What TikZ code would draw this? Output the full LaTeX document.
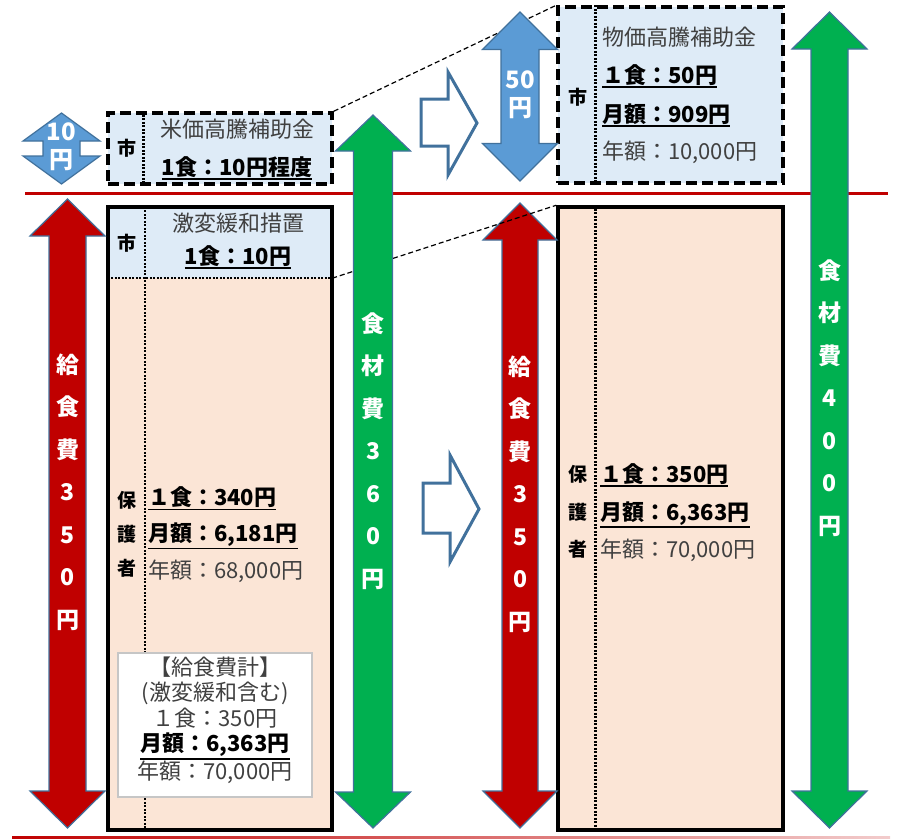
\documentclass[tikz,border=0pt]{standalone}
\usepackage{fontspec}
\setmainfont{Noto Sans CJK JP}
\usetikzlibrary{calc}
\definecolor{cityblue}{RGB}{222,235,247}
\definecolor{parentpeach}{RGB}{251,229,214}
\definecolor{mealred}{RGB}{192,0,0}
\definecolor{foodgreen}{RGB}{0,176,80}
\definecolor{aidblue}{RGB}{91,155,213}
\definecolor{edgeblue}{RGB}{65,113,156}
\definecolor{textgray}{RGB}{64,64,64}

% underlined amount
\newcommand{\undl}[1]{\vtop{\hbox{#1}\kern1pt\hrule height 1.8pt}}
% vertical block arrow: x, top tip, bottom tip, half shaft, half head, head length, style
\newcommand{\blockarrow}[7]{%
  \filldraw[#7] (#1,#2) -- ({#1+#5},{#2+#6}) -- ({#1+#4},{#2+#6}) -- ({#1+#4},{#3-#6})
    -- ({#1+#5},{#3-#6}) -- (#1,#3) -- ({#1-#5},{#3-#6}) -- ({#1-#4},{#3-#6})
    -- ({#1-#4},{#2+#6}) -- ({#1-#5},{#2+#6}) -- cycle;}

\begin{document}
\begin{tikzpicture}[x=1pt,y=-1pt,
    every node/.style={inner sep=0pt},
    plain/.style={font=\fontsize{22}{26}\selectfont, text=textgray},
    strong/.style={font=\fontsize{22}{26}\selectfont\bfseries},
    tag/.style={font=\fontsize{19}{34}\selectfont\bfseries, align=center},
    arrowtext/.style={font=\fontsize{23}{42.5}\selectfont\bfseries, text=white, align=center},
    amounttext/.style={font=\fontsize{24}{28}\selectfont\bfseries, text=white, align=center},
    blockedge/.style={draw=edgeblue, line width=1.2pt},
    hollow/.style={draw=edgeblue, line width=3pt, fill=white, line join=miter},
    citybox/.style={fill=cityblue, draw, line width=3.5pt, dash pattern=on 11pt off 5pt},
    divider/.style={line width=2.5pt, dash pattern=on 2pt off 1.5pt},
    connector/.style={line width=1.2pt, dash pattern=on 5pt off 3pt}]
  \useasboundingbox (0,0) rectangle (897,839);

  % level lines
  \draw[mealred, line width=3pt] (25,193) -- (888,193);
  \shade[left color=mealred, right color=mealred!20] (12,836) rectangle (890,838);

  % top left: rice subsidy
  \node[citybox, minimum width=224pt, minimum height=71pt] (ricebox) at (220,148.5) {};
  \draw[divider] ([xshift=37pt]ricebox.north west) -- ([xshift=37pt]ricebox.south west);
  \node[tag] (ricecity) at (126.5,148.5) {市};
  \node[plain, anchor=base] (ricetitle) at (237,137.5) {米価高騰補助金};
  \node[strong, anchor=base] (riceper) at (237,175) {\undl{1食：10円程度}};

  % left: current fee
  \node[fill=parentpeach, minimum width=224pt, minimum height=623pt] (leftbox) at (220,518.5) {};
  \node[fill=cityblue, minimum width=224pt, minimum height=71pt, anchor=north] (leftcity) at (leftbox.north) {};
  \draw[divider] (leftcity.south west) -- (leftcity.south east);
  \draw[divider] ([xshift=37pt]leftbox.north west) -- ([xshift=37pt]leftbox.south west);
  \draw[line width=3.5pt] (leftbox.north west) rectangle (leftbox.south east);
  \node[tag] (easecity) at (126.5,243) {市};
  \node[plain, anchor=base] (easetitle) at (238,231) {激変緩和措置};
  \node[strong, anchor=base] (easeper) at (238,264) {\undl{1食：10円}};
  \node[tag] (leftparent) at (127,534) {保\\護\\者};
  \node[strong, anchor=base west] (leftper) at (148,505.5) {\undl{１食：340円}};
  \node[strong, anchor=base west] (leftmonth) at (148,541.5) {\undl{月額：6,181円}};
  \node[plain, anchor=base west] (leftyear) at (148,578) {年額：68,000円};

  % total box
  \node[fill=white, draw=gray!45, line width=1.2pt, minimum width=194pt, minimum height=144pt] (totalbox) at (215,725) {};
  \node[plain, align=center, font=\fontsize{22}{25.5}\selectfont] (totaltext) at (215,720)
    {【給食費計】\\(激変緩和含む)\\１食：350円\\{\bfseries\color{black}\undl{月額：6,363円}}\\年額：70,000円};

  % top right: price subsidy
  \node[citybox, minimum width=225pt, minimum height=176pt] (pricebox) at (670.5,95) {};
  \draw[divider] ([xshift=39pt]pricebox.north west) -- ([xshift=39pt]pricebox.south west);
  \node[tag] (pricecity) at (577.5,97) {市};
  \node[plain, anchor=base west] (pricetitle) at (602,45) {物価高騰補助金};
  \node[strong, anchor=base west] (priceper) at (602,83) {\undl{１食：50円}};
  \node[strong, anchor=base west] (pricemonth) at (602,122) {\undl{月額：909円}};
  \node[plain, anchor=base west] (priceyear) at (602,159) {年額：10,000円};

  % right: new fee
  \node[fill=parentpeach, draw, line width=3.5pt, minimum width=225pt, minimum height=623pt] (rightbox) at (670.5,518.5) {};
  \draw[divider] ([xshift=39pt]rightbox.north west) -- ([xshift=39pt]rightbox.south west);
  \node[tag, font=\fontsize{19}{37.5}\selectfont\bfseries] (rightparent) at (578,512) {保\\護\\者};
  \node[strong, anchor=base west] (rightper) at (600,482) {\undl{１食：350円}};
  \node[strong, anchor=base west] (rightmonth) at (600,520) {\undl{月額：6,363円}};
  \node[plain, anchor=base west] (rightyear) at (600,557) {年額：70,000円};

  % dashed guides
  \draw[connector] (ricebox.north east) -- (pricebox.north west);

  % hollow arrows
  \draw[hollow] (421,99) -- (448,99) -- (448,72) -- (477,123) -- (448,175) -- (448,146) -- (421,146) -- cycle;
  \draw[hollow] (423,483) -- (450,483) -- (450,455) -- (479,509) -- (450,562) -- (450,533) -- (423,533) -- cycle;

  % amount arrows
  \blockarrow{61.5}{113}{184}{18.5}{38.5}{28}{fill=aidblue, blockedge}
  \node[amounttext] (riceamt) at (61.5,146.5) {10\\円};
  \blockarrow{520}{12}{181}{19}{37.5}{37.5}{fill=aidblue, blockedge}
  \node[amounttext] (priceamt) at (520,94.5) {50\\円};

  \blockarrow{67.5}{199}{828}{18.5}{37.5}{37}{fill=mealred, blockedge}
  \node[arrowtext] (leftmeal) at (67.5,492) {給\\食\\費\\3\\5\\0\\円};
  \blockarrow{520}{203}{828}{18}{37}{37}{fill=mealred, blockedge}
  \node[arrowtext] (rightmeal) at (520,494) {給\\食\\費\\3\\5\\0\\円};

  \draw[connector] (leftcity.south east) -- (rightbox.north west);

  \blockarrow{373}{115}{828}{19.5}{37.5}{36}{fill=foodgreen, blockedge}
  \node[arrowtext] (leftfood) at (373,451) {食\\材\\費\\3\\6\\0\\円};
  \blockarrow{829.5}{12}{828}{18.5}{37.5}{37}{fill=foodgreen, blockedge}
  \node[arrowtext] (rightfood) at (829.5,398) {食\\材\\費\\4\\0\\0\\円};
\end{tikzpicture}
\end{document}
